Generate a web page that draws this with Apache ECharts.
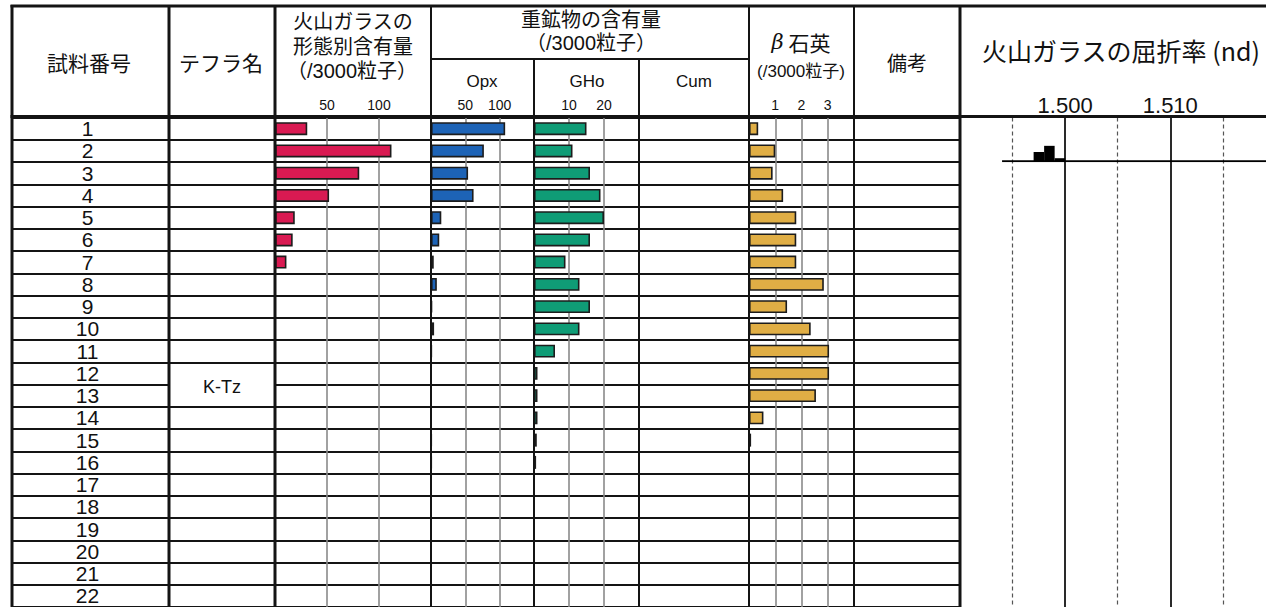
<!DOCTYPE html>
<html>
<head>
<meta charset="utf-8">
<script src="https://cdn.jsdelivr.net/npm/echarts@6/dist/echarts.min.js"></script>
<style>html,body{margin:0;padding:0;background:#fff}#c{width:1266px;height:607px}</style>
</head>
<body>
<div id="c"></div>
<script>
// ---------------- data ----------------
const samples = ['1','2','3','4','5','6','7','8','9','10','11','12','13','14','15','16','17','18','19','20','21','22'];
const tephra = [{ name: 'K-Tz', from: '12', to: '13' }];
// 火山ガラスの形態別含有量 (/3000粒子)
const glassShape = [31, 112, 81, 52, 19, 17, 11, null, null, null, null, null, null, null, null, null, null, null, null, null, null, null];
// 重鉱物 Opx
const opx = [108, 77, 54, 62, 15, 12, 4, 8.5, 1.5, 4.5, 1, null, null, null, 0.8, 0.8, null, null, null, null, null, null];
// 重鉱物 GHo
const gho = [15, 11, 16, 19, 20, 16, 9, 13, 16, 13, 6, 1, 1, 1, 0.8, 0.6, null, null, null, null, null, null];
// 重鉱物 Cum (no grains)
const cum = [null, null, null, null, null, null, null, null, null, null, null, null, null, null, null, null, null, null, null, null, null, null];
// β石英 (/3000粒子)
const betaQuartz = [0.35, 1, 0.9, 1.3, 1.8, 1.8, 1.8, 2.85, 1.45, 2.35, 3.05, 3.05, 2.55, 0.55, 0.08, null, null, null, null, null, null, null];
// 火山ガラスの屈折率 histogram (sample 2): [bin start, bin end, count]
const refractiveHist = [[1.497, 1.498, 3], [1.498, 1.499, 5], [1.499, 1.500, 1]];
const refractiveRange = [[1.494, 0], [1.5191, 0]];
// tick labels
const glassTicks = ['50', '100'];
const opxTicks = ['50', '100'];
const ghoTicks = ['10', '20'];
const betaTicks = ['1', '2', '3'];
const refTicks = ['1.500', '1.510'];

// ---------------- layout ----------------
const ROW_TOP = 117.5, ROW_H = 22.3, N = samples.length;
const HEAD_TOP = 5, SUB_LINE = 59, BOTTOM = 607;
const REF_MIN = 1.49, REF_MAX = 1.5191;
const cols = [
  { key: 'no', l: 12, w: 157 },
  { key: 'tephra', l: 169, w: 106 },
  { key: 'glass', l: 275, w: 156 },
  { key: 'opx', l: 431, w: 103 },
  { key: 'gho', l: 534, w: 105 },
  { key: 'cum', l: 639, w: 110 },
  { key: 'beta', l: 749, w: 105 },
  { key: 'note', l: 854, w: 106 },
  { key: 'ref', l: 960, w: 306 }
];
const LINE = '#141414', GRID = '#8a8a8a';
const CJK = '"Noto Sans CJK JP"';
const LAT = '"Liberation Sans", "Noto Sans CJK JP"';

const skipTicks = new Set();
tephra.forEach(t => {
  const a = samples.indexOf(t.from), b = samples.indexOf(t.to);
  for (let i = a + 1; i <= b; i++) skipTicks.add(i);
});

const grids = cols.map(c => ({ left: c.l, width: c.w, top: ROW_TOP, height: ROW_H * N, containLabel: false }));
grids.push({ left: 960, width: 306, top: 118, height: 43.3 }); // histogram

function rowAxis(i, extra) {
  return Object.assign({
    type: 'category', gridIndex: i, data: samples, inverse: true,
    axisLine: { show: false }, axisTick: { show: false }, axisLabel: { show: false },
    splitLine: { show: true, interval: 0, lineStyle: { color: LINE, width: 2 } }
  }, extra || {});
}
const yAxes = [
  rowAxis(0, { axisLabel: { show: true, interval: 0, align: 'center', margin: -75.5, fontSize: 21, fontFamily: '"Liberation Sans"', color: '#111' } }),
  rowAxis(1, { splitLine: { show: true, interval: (idx) => !skipTicks.has(idx), lineStyle: { color: LINE, width: 2 } } }),
  rowAxis(2), rowAxis(3), rowAxis(4), rowAxis(5), rowAxis(6), rowAxis(7),
  rowAxis(8, { splitLine: { show: false } }),
  { type: 'value', gridIndex: 9, min: 0, max: 14, show: false }
];

function scaleAxis(i, max, interval, ticks, colors) {
  return {
    type: 'value', gridIndex: i, min: 0, max: max, interval: interval, position: 'top',
    axisLine: { show: false }, axisTick: { show: false },
    axisLabel: { margin: 6, fontSize: 14, fontFamily: '"Liberation Sans"', color: '#111',
      formatter: v => ticks.includes(String(v)) ? String(v) : '' },
    splitLine: { show: true, lineStyle: { color: colors, width: 1.6 } }
  };
}
const hidden = i => ({ type: 'value', gridIndex: i, min: 0, max: 1, show: false });
const T = 'transparent';
const xAxes = [
  hidden(0), hidden(1),
  scaleAxis(2, 150, 50, glassTicks, [T, GRID, GRID]),
  scaleAxis(3, 150, 50, opxTicks, [T, GRID, GRID]),
  scaleAxis(4, 30, 10, ghoTicks, [T, GRID, GRID]),
  hidden(5),
  scaleAxis(6, 4, 1, betaTicks, [T, GRID, GRID, GRID]),
  hidden(7),
  { type: 'value', gridIndex: 8, min: REF_MIN, max: REF_MAX, interval: 0.01, position: 'top',
    axisLine: { show: false }, axisTick: { show: false },
    axisLabel: { margin: 1, fontSize: 22, fontFamily: '"Liberation Sans"', color: '#111', showMaxLabel: false,
      formatter: v => refTicks.includes(v.toFixed(3)) ? v.toFixed(3) : '' },
    splitLine: { show: true, lineStyle: { color: [T, '#2a2a2a', '#2a2a2a', T], width: 2 } } },
  { type: 'value', gridIndex: 8, min: REF_MIN, max: REF_MAX, interval: 0.005, position: 'top',
    axisLine: { show: false }, axisTick: { show: false }, axisLabel: { show: false },
    splitLine: { show: true, lineStyle: { color: [T, '#555', T, '#555', T, '#555', T, T], width: 1.2, type: [4, 3] } } },
  { type: 'value', gridIndex: 9, min: REF_MIN, max: REF_MAX, show: false }
];

function barSeries(name, xi, data, color) {
  return {
    name: name, type: 'bar', xAxisIndex: xi, yAxisIndex: xi, data: data, barWidth: 13,
    itemStyle: { color: color, borderColor: '#1c1c1c', borderWidth: 1.6 },
    z: 3, animation: false
  };
}
const series = [
  barSeries('火山ガラス', 2, glassShape, '#D91A52'),
  barSeries('Opx', 3, opx, '#1D63B6'),
  barSeries('GHo', 4, gho, '#0F9C76'),
  barSeries('Cum', 5, cum, '#888'),
  barSeries('β石英', 6, betaQuartz, '#E0AE45'),
  { type: 'line', xAxisIndex: 10, yAxisIndex: 9, data: refractiveRange, symbol: 'none',
    lineStyle: { color: '#000', width: 2 }, animation: false, z: 3 },
  { type: 'custom', xAxisIndex: 10, yAxisIndex: 9, data: refractiveHist, encode: { x: [0, 1], y: 2 },
    renderItem: (params, api) => {
      const p0 = api.coord([api.value(0), api.value(2)]);
      const p1 = api.coord([api.value(1), 0]);
      return { type: 'rect', shape: { x: p0[0], y: p0[1], width: p1[0] - p0[0], height: p1[1] - p0[1] }, style: { fill: '#000' } };
    }, animation: false, z: 4 }
];

// ---------------- header / frame ----------------
const g = [];
function hline(id, x1, x2, y, w) { g.push({ id, type: 'line', z: 100, shape: { x1, y1: y, x2, y2: y }, style: { stroke: LINE, lineWidth: w } }); }
function vline(id, x, y1, y2, w) { g.push({ id, type: 'line', z: 100, shape: { x1: x, y1, x2: x, y2 }, style: { stroke: LINE, lineWidth: w } }); }
function txt(id, t, x, y, size, fam) {
  g.push({ id, type: 'text', z: 101, style: { text: t, x, y, align: 'center', verticalAlign: 'middle', font: size + 'px ' + fam, fill: '#111' } });
}
hline('top', 10.5, 1266, HEAD_TOP + 1, 3);
hline('headBottom', 10.5, 1266, 116.5, 3);
hline('subHead', 431, 749, SUB_LINE, 2);
vline('v0', 12, HEAD_TOP, BOTTOM, 3);
vline('v1', 169, HEAD_TOP, BOTTOM, 3);
vline('v2', 275, HEAD_TOP, BOTTOM, 3);
vline('v3', 431, HEAD_TOP, BOTTOM, 2);
vline('v4', 534, SUB_LINE, BOTTOM, 2);
vline('v5', 639, SUB_LINE, BOTTOM, 2);
vline('v6', 749, HEAD_TOP, BOTTOM, 2);
vline('v7', 854, HEAD_TOP, BOTTOM, 2);
vline('v8', 960, HEAD_TOP, BOTTOM, 3);

txt('h1', '試料番号', 89, 62, 21, CJK);
txt('h2', 'テフラ名', 221, 62, 21, CJK);
txt('h3a', '火山ガラスの', 353, 22, 20, LAT);
txt('h3b', '形態別含有量', 353, 46.5, 20, LAT);
txt('h3c', '（/3000粒子）', 352, 71, 20, LAT);
txt('h4a', '重鉱物の含有量', 591, 19.5, 20, LAT);
txt('h4b', '（/3000粒子）', 591, 43, 20, LAT);
txt('h4c', 'Opx', 482, 81, 17, '"Liberation Sans"');
txt('h4d', 'GHo', 587, 81, 17, '"Liberation Sans"');
txt('h4e', 'Cum', 694, 81, 17, '"Liberation Sans"');
g.push({ id: 'h5a', type: 'text', z: 101, style: { text: '{b|β} 石英', x: 801, y: 42, align: 'center', verticalAlign: 'middle', font: '21px ' + CJK, fill: '#111',
  rich: { b: { fontFamily: '"DejaVu Serif"', fontStyle: 'italic', fontSize: 21, fill: '#111' } } } });
txt('h5b', '(/3000粒子)', 801, 71, 17, LAT);
txt('h6', '備考', 907, 62, 20, CJK);
txt('h7', '火山ガラスの屈折率 (nd)', 1121, 50, 25, CJK);

const chart = echarts.init(document.getElementById('c'), null, { renderer: 'svg' });
chart.setOption({
  animation: false,
  backgroundColor: '#fff',
  grid: grids, xAxis: xAxes, yAxis: yAxes, series: series, graphic: g
});
// merged tephra cell labels
const extraG = tephra.map((t, i) => {
  const ya = chart.convertToPixel({ yAxisIndex: 1 }, t.from);
  const yb = chart.convertToPixel({ yAxisIndex: 1 }, t.to);
  const x = cols[1].l + cols[1].w / 2;
  return { id: 'tephra' + i, type: 'text', z: 101, style: { text: t.name, x: x, y: (ya + yb) / 2 + 2, align: 'center', verticalAlign: 'middle', font: '18px "Liberation Sans"', fill: '#111' } };
});
chart.setOption({ graphic: extraG });
</script>
</body>
</html>
